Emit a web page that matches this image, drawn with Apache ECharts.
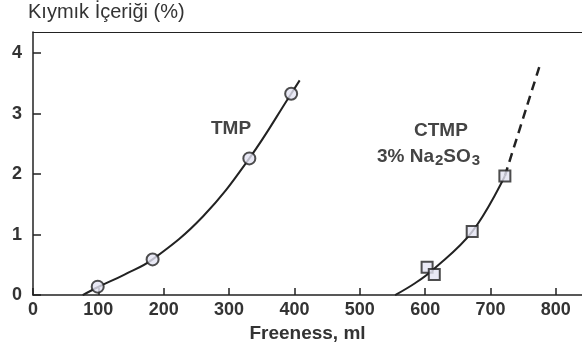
<!DOCTYPE html>
<html>
<head>
<meta charset="utf-8">
<script src="https://cdn.jsdelivr.net/npm/echarts@6/dist/echarts.min.js"></script>
<style>
  html, body { margin: 0; padding: 0; background: #fff; }
  #chart { width: 582px; height: 348px; }
</style>
</head>
<body>
<div id="chart"></div>
<script>
// values
const tmpPoints = [[99, 0.14], [183, 0.59], [331, 2.26], [395, 3.33]]
const tmpCurve = [[76, 0], [99, 0.13], [140, 0.34], [183, 0.59], [260, 1.3], [331, 2.26], [395, 3.33], [408, 3.55]]
const ctmpPoints = [[603, 0.46], [614, 0.34], [672, 1.05], [722, 1.97]]
const ctmpCurve = [[554, 0], [585, 0.2], [612, 0.42], [672, 1.05], [722, 1.97]]
const ctmpDashed = [[722, 1.97], [755, 3.1], [777, 3.85]]
const xTicks = [0, 100, 200, 300, 400, 500, 600, 700, 800]
const yTicks = [0, 1, 2, 3, 4]

const ink = '#222'
const font = 'Liberation Sans, Arial, sans-serif'

const chart = echarts.init(document.getElementById('chart'))

chart.setOption({
  animation: false,
  backgroundColor: '#fff',
  grid: { left: 33, right: -3, top: 32, bottom: 51 },
  xAxis: [{
    type: 'value',
    min: 0,
    max: 840,
    interval: 100,
    axisLine: { lineStyle: { color: ink, width: 1.5 } },
    axisTick: { inside: true, length: 7, lineStyle: { color: ink, width: 1.5 } },
    splitLine: { show: false },
    axisLabel: {
      showMaxLabel: false,
      color: '#333', fontSize: 18, fontWeight: 'bold', fontFamily: font, margin: 6,
      formatter: v => xTicks.includes(v) ? String(v) : ''
    },
    name: 'Freeness, ml',
    nameLocation: 'middle',
    nameGap: 28,
    nameTextStyle: { color: '#333', fontSize: 19, fontWeight: 'bold', fontFamily: font }
  }, {
    type: 'value',
    position: 'top',
    min: 0,
    max: 840,
    axisLine: { show: true, onZero: false, lineStyle: { color: ink, width: 1.2 } },
    axisTick: { show: false },
    axisLabel: { show: false },
    splitLine: { show: false }
  }],
  yAxis: {
    type: 'value',
    min: 0,
    max: 4.35,
    interval: 1,
    axisLine: { show: true, lineStyle: { color: ink, width: 1.5 } },
    axisTick: { show: true, inside: true, length: 8, lineStyle: { color: ink, width: 1.5 } },
    splitLine: { show: false },
    axisLabel: {
      showMaxLabel: false,
      color: '#333', fontSize: 18, fontWeight: 'bold', fontFamily: font, margin: 11,
      formatter: v => yTicks.includes(v) ? String(v) : ''
    }
  },
  graphic: [
    {
      type: 'text', left: 28, top: 2,
      style: { text: 'Kıymık İçeriği (%)', fill: '#333', font: '20px ' + font }
    },
    {
      type: 'text', left: 211, top: 119,
      style: { text: 'TMP', fill: '#444', font: 'bold 19px ' + font }
    },
    {
      type: 'text', left: 414, top: 121,
      style: { text: 'CTMP', fill: '#444', font: 'bold 19px ' + font }
    },
    {
      type: 'text', left: 377, top: 147,
      style: {
        text: '{n|3% Na}{s|2}{n|SO}{s|3}',
        rich: {
          n: { fill: '#444', font: 'bold 19px ' + font },
          s: { fill: '#444', font: 'bold 15px ' + font, padding: [9, 0, 0, 1] }
        }
      }
    }
  ],
  series: [
    {
      type: 'line', data: tmpCurve, smooth: 0.4, showSymbol: false,
      lineStyle: { color: ink, width: 2 }, z: 2
    },
    {
      type: 'line', data: ctmpCurve, smooth: 0.4, showSymbol: false,
      lineStyle: { color: ink, width: 2 }, z: 2
    },
    {
      type: 'line', data: ctmpDashed, smooth: 0.3, showSymbol: false,
      lineStyle: { color: ink, width: 2.5, type: [9, 6] }, z: 2
    },
    {
      type: 'scatter', data: tmpPoints, symbol: 'circle', symbolSize: 12,
      itemStyle: { color: '#e4e4f2', borderColor: ink, borderWidth: 2 }, z: 3
    },
    {
      type: 'scatter', data: ctmpPoints, symbol: 'rect', symbolSize: 11,
      itemStyle: { color: '#e4e4f2', borderColor: ink, borderWidth: 2 }, z: 3
    }
  ]
})
</script>
</body>
</html>
